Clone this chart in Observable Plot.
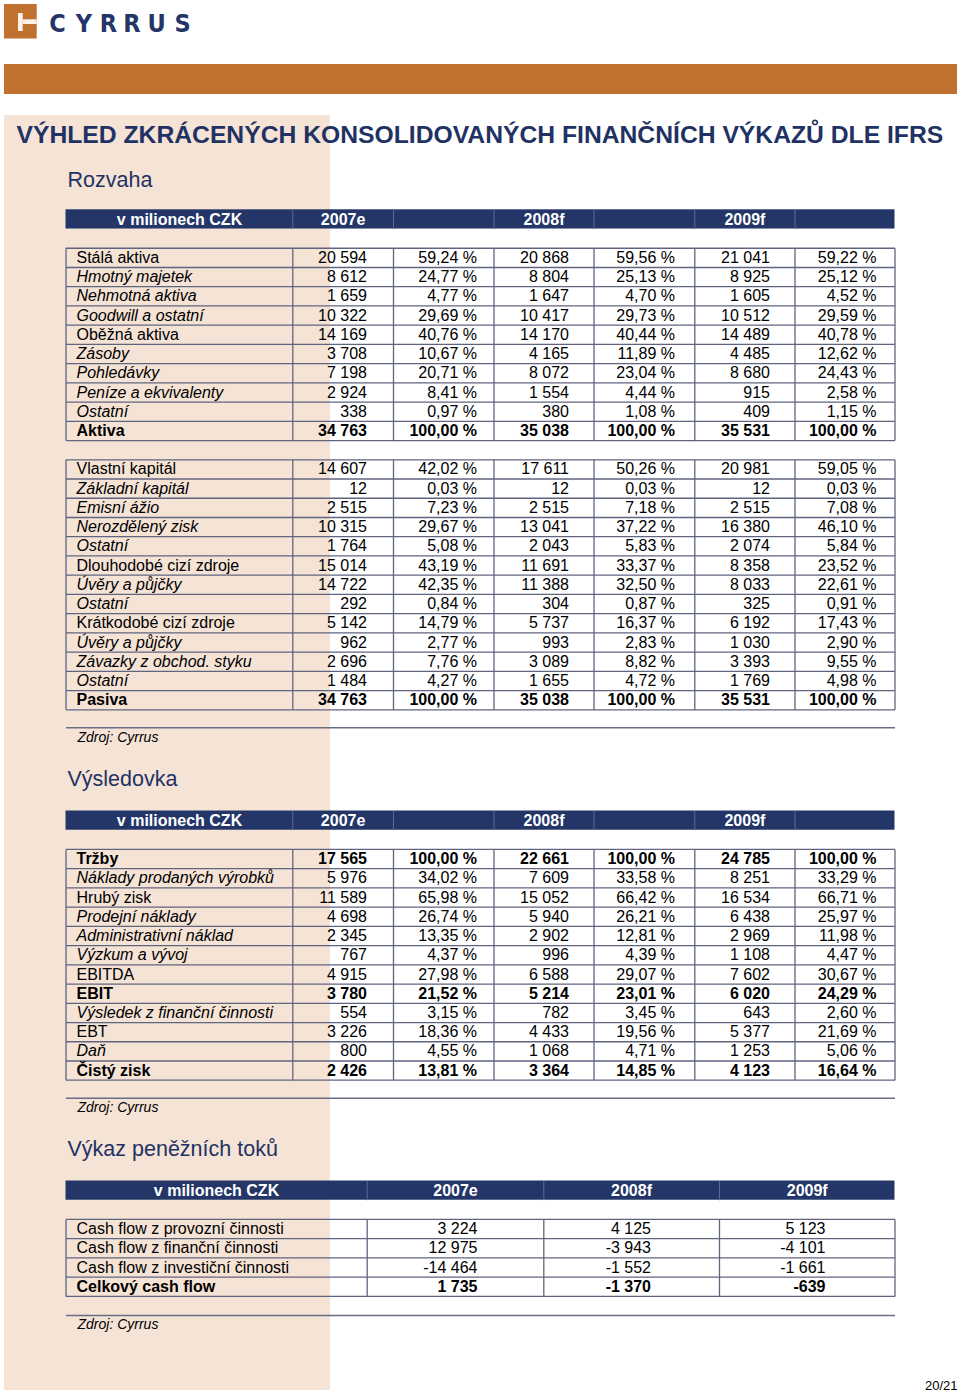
<!DOCTYPE html>
<html><head><meta charset="utf-8">
<script src="https://cdn.jsdelivr.net/npm/d3@7"></script>
<script src="https://cdn.jsdelivr.net/npm/@observablehq/plot@0.6"></script>
<style>body{margin:0;background:#fff}#chart svg{display:block}</style>
</head><body><div id="chart"></div>
<script>
// ---------------- DATA ----------------
const brand = ["C","Y","R","R","U","S"];
const pageTitle = "VÝHLED ZKRÁCENÝCH KONSOLIDOVANÝCH FINANČNÍCH VÝKAZŮ DLE IFRS";
const sectionTitles = ["Rozvaha","Výsledovka","Výkaz peněžních toků"];
const headLabel = "v milionech CZK";
const years = ["2007e","2008f","2009f"];
const sourceNote = "Zdroj: Cyrrus";
const pageNumber = "20/21";

const aktivaLabels = ["Stálá aktiva","Hmotný majetek","Nehmotná aktiva","Goodwill a ostatní","Oběžná aktiva","Zásoby","Pohledávky","Peníze a ekvivalenty","Ostatní","Aktiva"];
const aktiva2007 = [20594,8612,1659,10322,14169,3708,7198,2924,338,34763];
const aktivaPct2007 = [59.24,24.77,4.77,29.69,40.76,10.67,20.71,8.41,0.97,100];
const aktiva2008 = [20868,8804,1647,10417,14170,4165,8072,1554,380,35038];
const aktivaPct2008 = [59.56,25.13,4.70,29.73,40.44,11.89,23.04,4.44,1.08,100];
const aktiva2009 = [21041,8925,1605,10512,14489,4485,8680,915,409,35531];
const aktivaPct2009 = [59.22,25.12,4.52,29.59,40.78,12.62,24.43,2.58,1.15,100];

const pasivaLabels = ["Vlastní kapitál","Základní kapitál","Emisní ážio","Nerozdělený zisk","Ostatní","Dlouhodobé cizí zdroje","Úvěry a půjčky","Ostatní","Krátkodobé cizí zdroje","Úvěry a půjčky","Závazky z obchod. styku","Ostatní","Pasiva"];
const pasiva2007 = [14607,12,2515,10315,1764,15014,14722,292,5142,962,2696,1484,34763];
const pasivaPct2007 = [42.02,0.03,7.23,29.67,5.08,43.19,42.35,0.84,14.79,2.77,7.76,4.27,100];
const pasiva2008 = [17611,12,2515,13041,2043,11691,11388,304,5737,993,3089,1655,35038];
const pasivaPct2008 = [50.26,0.03,7.18,37.22,5.83,33.37,32.50,0.87,16.37,2.83,8.82,4.72,100];
const pasiva2009 = [20981,12,2515,16380,2074,8358,8033,325,6192,1030,3393,1769,35531];
const pasivaPct2009 = [59.05,0.03,7.08,46.10,5.84,23.52,22.61,0.91,17.43,2.90,9.55,4.98,100];

const vysLabels = ["Tržby","Náklady prodaných výrobků","Hrubý zisk","Prodejní náklady","Administrativní náklad","Výzkum a vývoj","EBITDA","EBIT","Výsledek z finanční činnosti","EBT","Daň","Čistý zisk"];
const vys2007 = [17565,5976,11589,4698,2345,767,4915,3780,554,3226,800,2426];
const vysPct2007 = [100,34.02,65.98,26.74,13.35,4.37,27.98,21.52,3.15,18.36,4.55,13.81];
const vys2008 = [22661,7609,15052,5940,2902,996,6588,5214,782,4433,1068,3364];
const vysPct2008 = [100,33.58,66.42,26.21,12.81,4.39,29.07,23.01,3.45,19.56,4.71,14.85];
const vys2009 = [24785,8251,16534,6438,2969,1108,7602,6020,643,5377,1253,4123];
const vysPct2009 = [100,33.29,66.71,25.97,11.98,4.47,30.67,24.29,2.60,21.69,5.06,16.64];

const cfLabels = ["Cash flow z provozní činnosti","Cash flow z finanční činnosti","Cash flow z investiční činnosti","Celkový cash flow"];
const cf2007 = [3224,12975,-14464,1735];
const cf2008 = [4125,-3943,-1552,-1370];
const cf2009 = [5123,-4101,-1661,-639];

// ---------------- STYLE / LAYOUT ----------------
const FONT = "'Liberation Sans', Arial, Helvetica, sans-serif";
const NAVY = "#243668", TITLE = "#1f3263", GRID = "#60657f", SEP = "#5a6a95";
const ORANGE = "#c0702f", PEACH = "#f5e3d6";
const aktivaItalic = [1,2,3,5,6,7,8], aktivaBold = [9];
const pasivaItalic = [1,2,3,4,6,7,9,10,11], pasivaBold = [12];
const vysItalic = [1,3,4,5,8,10], vysBold = [0,7,11];
const cfBold = [3];

const P = 19.23;
const loc = d3.formatLocale({decimal: ",", thousands: "\u00a0", grouping: [3], currency: ["", ""], minus: "-"});
const fmtN = loc.format(",d");
const fmtP = v => loc.format(",.2f")(v) + "\u00a0%";

const rects = [], links = [], texts = [];
function addText(x, base, text, o = {}) {
  const size = o.size ?? 16;
  texts.push({x, y: base - 0.32 * size, text, size, weight: o.weight || "normal", style: o.style || "normal",
    anchor: o.anchor || "start", fill: o.fill || "#000", family: o.family || FONT});
}
const line = (x1, y1, x2, y2, stroke = GRID, sw = 1.3) => links.push({x1, y1, x2, y2, stroke, sw});

// page decoration
rects.push({x1: 4, x2: 330, y1: 115, y2: 1390, fill: PEACH});
rects.push({x1: 4, x2: 957, y1: 64, y2: 94, fill: ORANGE});
rects.push({x1: 4, x2: 36.7, y1: 4, y2: 38.5, fill: ORANGE});
rects.push({x1: 18, x2: 22.7, y1: 13, y2: 31, fill: "#fbf1ea"});
rects.push({x1: 22.7, x2: 36.7, y1: 19.3, y2: 24, fill: "#fbf1ea"});
const brandX = [57, 83.5, 108, 131.5, 156, 182];
brand.forEach((c, i) => addText(brandX[i], 31, c, {size: 25, weight: "bold", anchor: "middle", fill: NAVY,
  family: "'Liberation Sans Narrow', 'DejaVu Sans Condensed', sans-serif"}));
addText(16, 142.7, pageTitle, {size: 24.7, weight: "bold", fill: TITLE});
addText(957, 1389, pageNumber, {size: 13, anchor: "end"});

// generic table
function table(cfg) {
  const {top, cols, headCenters, blocks, titleBase, title} = cfg;
  addText(67, titleBase, title, {size: 21.5, fill: TITLE});
  rects.push({x1: cols[0], x2: cols[cols.length - 1], y1: top, y2: top + P, fill: NAVY});
  cols.slice(1, -1).forEach(x => line(x, top, x, top + P, SEP, 1));
  addText(headCenters[0], top + 14.8, headLabel, {weight: "bold", anchor: "middle", fill: "#fff"});
  years.forEach((y, i) => addText(headCenters[i + 1], top + 14.8, y, {weight: "bold", anchor: "middle", fill: "#fff"}));
  let bottom = 0;
  for (const b of blocks) {
    const y0 = top + b.start * P, n = b.labels.length, y1 = y0 + n * P;
    bottom = y1;
    for (let r = 0; r <= n; r++) line(cols[0], y0 + r * P, cols[cols.length - 1], y0 + r * P);
    cols.forEach(x => line(x, y0, x, y1));
    b.labels.forEach((lab, r) => {
      const base = y0 + r * P + 14.7;
      const bold = b.bold.includes(r), ital = (b.italic || []).includes(r);
      addText(76, base, lab, {weight: bold ? "bold" : "normal", style: ital ? "italic" : "normal"});
      b.cells.forEach(c => addText(c.x, base, c.fmt(c.values[r]), {weight: bold ? "bold" : "normal", anchor: "end"}));
    });
  }
  const ry = bottom + cfg.noteGap;
  line(cols[0], ry, cols[cols.length - 1], ry, "#6a6e84", 1.5);
  addText(77, ry + 14, sourceNote, {size: 14, style: "italic"});
}

const colsW = [65.5, 292.3, 393, 493.5, 593.5, 694.3, 794.5, 894.5];
const cellsOf = (v7, p7, v8, p8, v9, p9) => [
  {x: 366.5, values: v7, fmt: fmtN}, {x: 476.5, values: p7, fmt: fmtP},
  {x: 568.5, values: v8, fmt: fmtN}, {x: 674.5, values: p8, fmt: fmtP},
  {x: 769.5, values: v9, fmt: fmtN}, {x: 876, values: p9, fmt: fmtP}];
const headW = [179, 342.6, 543.5, 744.4];

table({title: sectionTitles[0], titleBase: 186.7, top: 209.3, cols: colsW, headCenters: headW, noteGap: 18,
  blocks: [
    {start: 2, labels: aktivaLabels, italic: aktivaItalic, bold: aktivaBold,
     cells: cellsOf(aktiva2007, aktivaPct2007, aktiva2008, aktivaPct2008, aktiva2009, aktivaPct2009)},
    {start: 13, labels: pasivaLabels, italic: pasivaItalic, bold: pasivaBold,
     cells: cellsOf(pasiva2007, pasivaPct2007, pasiva2008, pasivaPct2008, pasiva2009, pasivaPct2009)}]});

table({title: sectionTitles[1], titleBase: 785, top: 810.5, cols: colsW, headCenters: headW, noteGap: 18,
  blocks: [{start: 2, labels: vysLabels, italic: vysItalic, bold: vysBold,
    cells: cellsOf(vys2007, vysPct2007, vys2008, vysPct2008, vys2009, vysPct2009)}]});

table({title: sectionTitles[2], titleBase: 1155, top: 1180.5, cols: [65.5, 366.7, 543.3, 719, 894.5],
  headCenters: [216, 455, 631, 806.7], noteGap: 19,
  blocks: [{start: 2, labels: cfLabels, italic: [], bold: cfBold,
    cells: [{x: 477, values: cf2007, fmt: fmtN}, {x: 650.5, values: cf2008, fmt: fmtN}, {x: 825, values: cf2009, fmt: fmtN}]}]});

// ---------------- PLOT ----------------
const textMarks = d3.groups(texts, d => [d.size, d.weight, d.style, d.anchor, d.fill, d.family].join("|"))
  .map(([, g]) => Plot.text(g, {x: "x", y: "y", text: "text", fontSize: g[0].size, fontWeight: g[0].weight,
    fontStyle: g[0].style, textAnchor: g[0].anchor, fill: g[0].fill, fontFamily: g[0].family, lineAnchor: "middle"}));
const linkMarks = d3.groups(links, d => d.stroke + "|" + d.sw)
  .map(([, g]) => Plot.link(g, {x1: "x1", y1: "y1", x2: "x2", y2: "y2", stroke: g[0].stroke, strokeWidth: g[0].sw}));

const chart = Plot.plot({
  width: 960, height: 1394, margin: 0,
  x: {type: "identity", axis: null}, y: {type: "identity", axis: null},
  style: {fontFamily: FONT, background: "#fff"},
  marks: [
    Plot.rect(rects, {x1: "x1", x2: "x2", y1: "y1", y2: "y2", fill: "fill"}),
    ...linkMarks,
    ...textMarks
  ]
});
document.getElementById("chart").append(chart);
</script>
</body></html>
